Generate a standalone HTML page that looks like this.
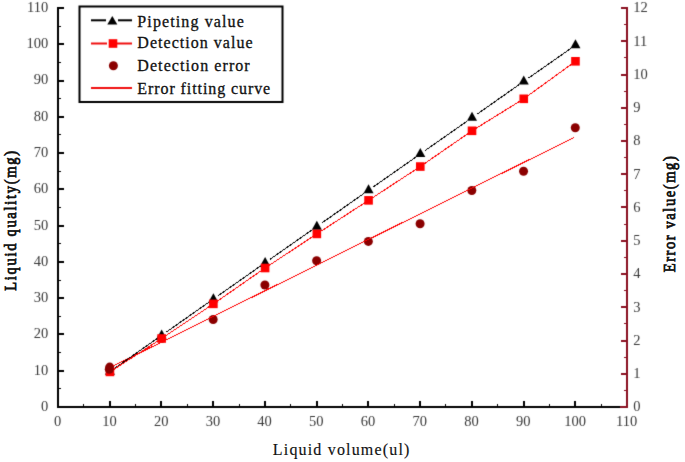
<!DOCTYPE html>
<html><head><meta charset="utf-8"><style>
html,body{margin:0;padding:0;background:#fff;width:685px;height:462px;overflow:hidden;}
svg{display:block;font-family:"Liberation Serif",serif;}
</style></head><body>
<svg width="685" height="462" viewBox="0 0 685 462" font-family="Liberation Serif, serif"><defs><filter id="bl" x="0" y="0" width="685" height="462" filterUnits="userSpaceOnUse" color-interpolation-filters="sRGB"><feConvolveMatrix order="3" kernelMatrix="0.01134 0.08382 0.01134 0.08382 0.61935 0.08382 0.01134 0.08382 0.01134" divisor="1" edgeMode="duplicate"/></filter></defs><g filter="url(#bl)"><rect width="685" height="462" fill="#fff"/><rect x="57" y="7" width="2" height="401" fill="#000"/><rect x="57" y="406" width="571" height="2" fill="#000"/><rect x="626" y="7" width="2" height="401" fill="#8a1020"/><rect x="620" y="406" width="8" height="2" fill="#8a1020"/><rect x="59" y="406" width="5" height="2" fill="#000"/><rect x="59" y="388" width="2" height="1" fill="#000"/><rect x="59" y="370" width="5" height="2" fill="#000"/><rect x="59" y="352" width="2" height="1" fill="#000"/><rect x="59" y="333" width="5" height="2" fill="#000"/><rect x="59" y="316" width="2" height="1" fill="#000"/><rect x="59" y="297" width="5" height="2" fill="#000"/><rect x="59" y="280" width="2" height="1" fill="#000"/><rect x="59" y="261" width="5" height="2" fill="#000"/><rect x="59" y="243" width="2" height="1" fill="#000"/><rect x="59" y="225" width="5" height="2" fill="#000"/><rect x="59" y="207" width="2" height="1" fill="#000"/><rect x="59" y="188" width="5" height="2" fill="#000"/><rect x="59" y="171" width="2" height="1" fill="#000"/><rect x="59" y="152" width="5" height="2" fill="#000"/><rect x="59" y="134" width="2" height="1" fill="#000"/><rect x="59" y="116" width="5" height="2" fill="#000"/><rect x="59" y="98" width="2" height="1" fill="#000"/><rect x="59" y="80" width="5" height="2" fill="#000"/><rect x="59" y="62" width="2" height="1" fill="#000"/><rect x="59" y="43" width="5" height="2" fill="#000"/><rect x="59" y="26" width="2" height="1" fill="#000"/><rect x="59" y="7" width="5" height="2" fill="#000"/><rect x="57" y="401" width="2" height="5" fill="#000"/><rect x="83" y="404" width="1" height="2" fill="#000"/><rect x="109" y="401" width="2" height="5" fill="#000"/><rect x="135" y="404" width="1" height="2" fill="#000"/><rect x="160" y="401" width="2" height="5" fill="#000"/><rect x="187" y="404" width="1" height="2" fill="#000"/><rect x="212" y="401" width="2" height="5" fill="#000"/><rect x="239" y="404" width="1" height="2" fill="#000"/><rect x="264" y="401" width="2" height="5" fill="#000"/><rect x="290" y="404" width="1" height="2" fill="#000"/><rect x="316" y="401" width="2" height="5" fill="#000"/><rect x="342" y="404" width="1" height="2" fill="#000"/><rect x="367" y="401" width="2" height="5" fill="#000"/><rect x="394" y="404" width="1" height="2" fill="#000"/><rect x="419" y="401" width="2" height="5" fill="#000"/><rect x="445" y="404" width="1" height="2" fill="#000"/><rect x="471" y="401" width="2" height="5" fill="#000"/><rect x="497" y="404" width="1" height="2" fill="#000"/><rect x="523" y="401" width="2" height="5" fill="#000"/><rect x="549" y="404" width="1" height="2" fill="#000"/><rect x="574" y="401" width="2" height="5" fill="#000"/><rect x="601" y="404" width="1" height="2" fill="#000"/><rect x="621" y="406" width="5" height="2" fill="#8a1020"/><rect x="624" y="390" width="2" height="1" fill="#8a1020"/><rect x="621" y="373" width="5" height="2" fill="#8a1020"/><rect x="624" y="357" width="2" height="1" fill="#8a1020"/><rect x="621" y="340" width="5" height="2" fill="#8a1020"/><rect x="624" y="323" width="2" height="1" fill="#8a1020"/><rect x="621" y="306" width="5" height="2" fill="#8a1020"/><rect x="624" y="290" width="2" height="1" fill="#8a1020"/><rect x="621" y="273" width="5" height="2" fill="#8a1020"/><rect x="624" y="257" width="2" height="1" fill="#8a1020"/><rect x="621" y="240" width="5" height="2" fill="#8a1020"/><rect x="624" y="224" width="2" height="1" fill="#8a1020"/><rect x="621" y="206" width="5" height="2" fill="#8a1020"/><rect x="624" y="190" width="2" height="1" fill="#8a1020"/><rect x="621" y="173" width="5" height="2" fill="#8a1020"/><rect x="624" y="157" width="2" height="1" fill="#8a1020"/><rect x="621" y="140" width="5" height="2" fill="#8a1020"/><rect x="624" y="124" width="2" height="1" fill="#8a1020"/><rect x="621" y="107" width="5" height="2" fill="#8a1020"/><rect x="624" y="91" width="2" height="1" fill="#8a1020"/><rect x="621" y="74" width="5" height="2" fill="#8a1020"/><rect x="624" y="57" width="2" height="1" fill="#8a1020"/><rect x="621" y="40" width="5" height="2" fill="#8a1020"/><rect x="624" y="24" width="2" height="1" fill="#8a1020"/><rect x="621" y="7" width="5" height="2" fill="#8a1020"/><g font-size="14.5" fill="#3a3a3a"><text x="48.3" y="410.9" text-anchor="end">0</text><text x="48.3" y="374.6" text-anchor="end">10</text><text x="48.3" y="338.4" text-anchor="end">20</text><text x="48.3" y="302.1" text-anchor="end">30</text><text x="48.3" y="265.8" text-anchor="end">40</text><text x="48.3" y="229.5" text-anchor="end">50</text><text x="48.3" y="193.3" text-anchor="end">60</text><text x="48.3" y="157.0" text-anchor="end">70</text><text x="48.3" y="120.7" text-anchor="end">80</text><text x="48.3" y="84.4" text-anchor="end">90</text><text x="48.3" y="48.2" text-anchor="end">100</text><text x="48.3" y="11.9" text-anchor="end">110</text><text x="57.7" y="425.7" text-anchor="middle">0</text><text x="109.4" y="425.7" text-anchor="middle">10</text><text x="161.2" y="425.7" text-anchor="middle">20</text><text x="212.9" y="425.7" text-anchor="middle">30</text><text x="264.6" y="425.7" text-anchor="middle">40</text><text x="316.3" y="425.7" text-anchor="middle">50</text><text x="368.1" y="425.7" text-anchor="middle">60</text><text x="419.8" y="425.7" text-anchor="middle">70</text><text x="471.5" y="425.7" text-anchor="middle">80</text><text x="523.2" y="425.7" text-anchor="middle">90</text><text x="575.0" y="425.7" text-anchor="middle">100</text><text x="626.7" y="425.7" text-anchor="middle">110</text><text x="633.3" y="411.4">0</text><text x="633.3" y="378.1">1</text><text x="633.3" y="344.9">2</text><text x="633.3" y="311.6">3</text><text x="633.3" y="278.4">4</text><text x="633.3" y="245.2">5</text><text x="633.3" y="211.9">6</text><text x="633.3" y="178.7">7</text><text x="633.3" y="145.4">8</text><text x="633.3" y="112.2">9</text><text x="633.3" y="78.9">10</text><text x="633.3" y="45.6">11</text><text x="633.3" y="12.4">12</text></g><circle cx="109.73" cy="367.10" r="4.5" fill="#8b0000"/><circle cx="161.45" cy="338.50" r="4.5" fill="#8b0000"/><circle cx="213.18" cy="319.55" r="4.5" fill="#8b0000"/><circle cx="264.91" cy="284.97" r="4.5" fill="#8b0000"/><circle cx="316.64" cy="260.70" r="4.5" fill="#8b0000"/><circle cx="368.36" cy="241.41" r="4.5" fill="#8b0000"/><circle cx="420.09" cy="223.79" r="4.5" fill="#8b0000"/><circle cx="471.82" cy="190.54" r="4.5" fill="#8b0000"/><circle cx="523.55" cy="171.26" r="4.5" fill="#8b0000"/><circle cx="575.27" cy="127.70" r="4.5" fill="#8b0000"/><polyline points="109.70,367.80 574.20,137.40" fill="none" stroke="#ff0000" stroke-width="1" shape-rendering="crispEdges"/><path d="M114.53,368.37L157.25,338.41M166.26,332.10L208.98,302.14M217.98,295.82L260.71,265.87M269.71,259.55L312.43,229.59M321.44,223.28L364.16,193.32M373.17,187.01L415.89,157.05M424.89,150.73L467.62,120.78M476.62,114.46L519.34,84.50M528.35,78.19L571.07,48.23" fill="none" stroke="#000" stroke-width="1" shape-rendering="crispEdges"/><path d="M109.93,365.73 L114.93,374.73 L104.93,374.73Z" fill="#000"/><path d="M161.65,329.45 L166.65,338.45 L156.65,338.45Z" fill="#000"/><path d="M213.38,293.18 L218.38,302.18 L208.38,302.18Z" fill="#000"/><path d="M265.11,256.91 L270.11,265.91 L260.11,265.91Z" fill="#000"/><path d="M316.84,220.64 L321.84,229.64 L311.84,229.64Z" fill="#000"/><path d="M368.56,184.36 L373.56,193.36 L363.56,193.36Z" fill="#000"/><path d="M420.29,148.09 L425.29,157.09 L415.29,157.09Z" fill="#000"/><path d="M472.02,111.82 L477.02,120.82 L467.02,120.82Z" fill="#000"/><path d="M523.75,75.55 L528.75,84.55 L518.75,84.55Z" fill="#000"/><path d="M575.47,39.27 L580.47,48.27 L570.47,48.27Z" fill="#000"/><polyline points="109.93,371.90 161.65,338.50 213.38,303.85 265.11,268.00 316.84,233.90 368.56,200.35 420.29,166.55 472.02,130.80 523.75,98.80 575.47,61.30" fill="none" stroke="#ff0000" stroke-width="1" shape-rendering="crispEdges"/><rect x="105.63" y="367.60" width="8.6" height="8.6" fill="#ff0000"/><rect x="157.35" y="334.20" width="8.6" height="8.6" fill="#ff0000"/><rect x="209.08" y="299.55" width="8.6" height="8.6" fill="#ff0000"/><rect x="260.81" y="263.70" width="8.6" height="8.6" fill="#ff0000"/><rect x="312.54" y="229.60" width="8.6" height="8.6" fill="#ff0000"/><rect x="364.26" y="196.05" width="8.6" height="8.6" fill="#ff0000"/><rect x="415.99" y="162.25" width="8.6" height="8.6" fill="#ff0000"/><rect x="467.72" y="126.50" width="8.6" height="8.6" fill="#ff0000"/><rect x="519.45" y="94.50" width="8.6" height="8.6" fill="#ff0000"/><rect x="571.17" y="57.00" width="8.6" height="8.6" fill="#ff0000"/><circle cx="109.30" cy="369.20" r="4.5" fill="#8b0000"/><rect x="79.5" y="6.5" width="203" height="95.5" fill="none" stroke="#000" stroke-width="2"/><rect x="91" y="19.3" width="15" height="2" fill="#000"/><rect x="118" y="19.3" width="14" height="2" fill="#000"/><path d="M112.30,16.00 L117.30,24.50 L107.30,24.50Z" fill="#000"/><rect x="91" y="42.5" width="16" height="2" fill="#f01010"/><rect x="117" y="42.5" width="15" height="2" fill="#f01010"/><rect x="108.70" y="39.20" width="8.6" height="8.6" fill="#ff0000"/><circle cx="113.40" cy="65.70" r="4.5" fill="#8b0000"/><rect x="91" y="87.0" width="41" height="2" fill="#f01010"/></g><g font-size="16" fill="#111" stroke="#111" stroke-width="0.3"><text x="137.3" y="26.5" textLength="106.5" lengthAdjust="spacing">Pipeting value</text><text x="137.3" y="48" textLength="115.3" lengthAdjust="spacing">Detection value</text><text x="137.3" y="70.7" textLength="112.4" lengthAdjust="spacing">Detection error</text><text x="137.3" y="93.6" textLength="132.9" lengthAdjust="spacing">Error fitting curve</text></g><text x="272.8" y="454.6" font-size="16" textLength="136.6" lengthAdjust="spacing" fill="#111" stroke="#111" stroke-width="0.15">Liquid volume(ul)</text><text transform="translate(15.8,290.8) rotate(-90) scale(0.88,1)" font-size="16.5" textLength="158.86" lengthAdjust="spacing" fill="#111" stroke="#111" stroke-width="0.8">Liquid quality(mg)</text><text transform="translate(675,272.3) rotate(-90) scale(0.88,1)" font-size="16.5" textLength="131.93" lengthAdjust="spacing" fill="#111" stroke="#111" stroke-width="0.8">Error value(mg)</text></svg>
</body></html>
